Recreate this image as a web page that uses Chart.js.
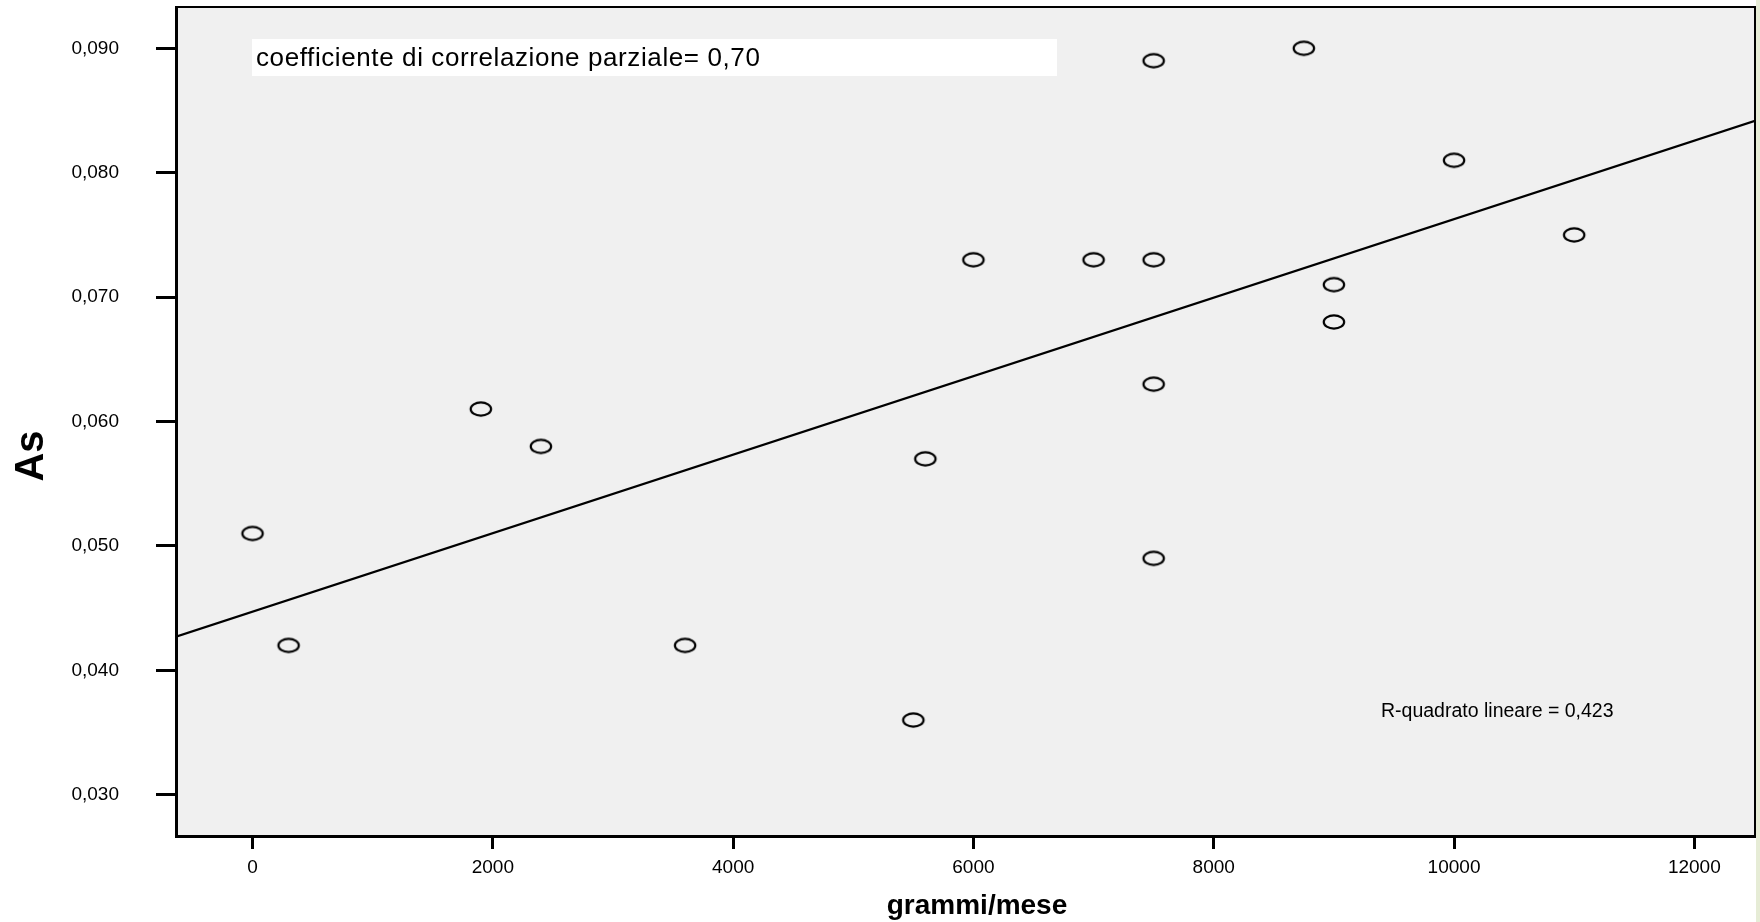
<!DOCTYPE html>
<html>
<head>
<meta charset="utf-8">
<script src="https://cdn.jsdelivr.net/npm/chart.js@4"></script>
<style>
  html, body { margin: 0; padding: 0; background: #fff; }
  canvas { display: block; }
</style>
</head>
<body>
<canvas id="chart" width="1760" height="922"></canvas>
<script>
// valori
const grammiMese = [0, 300, 1900, 2400, 3600, 5500, 5600, 6000, 7000, 7500, 7500, 7500, 7500, 8750, 9000, 9000, 10000, 11000];
const arsenico = [0.051, 0.042, 0.061, 0.058, 0.042, 0.036, 0.057, 0.073, 0.073, 0.089, 0.073, 0.063, 0.049, 0.090, 0.071, 0.068, 0.081, 0.075];
const xTickValues = [0, 2000, 4000, 6000, 8000, 10000, 12000];
const yTickValues = [0.030, 0.040, 0.050, 0.060, 0.070, 0.080, 0.090];
const yTickLabels = ['0,030', '0,040', '0,050', '0,060', '0,070', '0,080', '0,090'];
const xRange = [-637, 12505];
const yRange = [0.02668, 0.09332];
const xTitle = 'grammi/mese';
const yTitle = 'As';
const noteText = 'coefficiente di correlazione parziale= 0,70';
const r2Text = 'R-quadrato lineare = 0,423';

const FONT = '"Liberation Sans", Arial, sans-serif';

// retta dei minimi quadrati
const n = grammiMese.length;
const mx = grammiMese.reduce((a, b) => a + b, 0) / n;
const my = arsenico.reduce((a, b) => a + b, 0) / n;
let sxy = 0, sxx = 0;
for (let i = 0; i < n; i++) {
    sxy += (grammiMese[i] - mx) * (arsenico[i] - my);
    sxx += (grammiMese[i] - mx) * (grammiMese[i] - mx);
}
const slope = sxy / sxx;
const intercept = my - slope * mx;
const fitLine = xRange.map(x => ({ x: x, y: intercept + slope * x }));

// marcatore ellittico
const marker = document.createElement('canvas');
marker.width = 26;
marker.height = 18;
const mctx = marker.getContext('2d');
mctx.beginPath();
mctx.ellipse(13, 9, 10.2, 6.6, 0, 0, Math.PI * 2);
mctx.lineWidth = 2.2;
mctx.strokeStyle = '#000';
mctx.stroke();

const decorations = {
    id: 'decorations',
    beforeDraw(chart) {
        const ctx = chart.ctx;
        const a = chart.chartArea;
        ctx.save();
        ctx.fillStyle = '#f0f0f0';
        ctx.fillRect(a.left, a.top, a.right - a.left, a.bottom - a.top);
        ctx.fillStyle = '#e6ecd6';
        ctx.fillRect(1756, 0, 4, chart.height);
        // riquadro bianco con il coefficiente
        ctx.fillStyle = '#fff';
        ctx.fillRect(252, 39, 805, 37);
        ctx.fillStyle = '#000';
        ctx.font = '26px ' + FONT;
        if ('letterSpacing' in ctx) ctx.letterSpacing = '0.6px';
        ctx.textBaseline = 'alphabetic';
        ctx.textAlign = 'left';
        ctx.fillText(noteText, 256, 66);
        if ('letterSpacing' in ctx) ctx.letterSpacing = '0px';
        ctx.font = '19.5px ' + FONT;
        ctx.fillText(r2Text, 1381, 717);
        ctx.restore();
    },
    afterDraw(chart) {
        const ctx = chart.ctx;
        const a = chart.chartArea;
        ctx.save();
        ctx.strokeStyle = '#000';
        ctx.lineWidth = 2;
        ctx.beginPath();
        ctx.moveTo(a.left, a.top);
        ctx.lineTo(a.right, a.top);
        ctx.lineTo(a.right, a.bottom);
        ctx.stroke();
        // titoli degli assi
        ctx.fillStyle = '#000';
        ctx.font = 'bold 28px ' + FONT;
        ctx.textAlign = 'center';
        ctx.textBaseline = 'alphabetic';
        ctx.fillText(xTitle, 977, 914);
        ctx.translate(43, 456);
        ctx.rotate(-Math.PI / 2);
        ctx.font = 'bold 40px ' + FONT;
        ctx.fillText(yTitle, 0, 0);
        ctx.restore();
    }
};

function noPadding(s) {
    s.paddingTop = 0;
    s.paddingBottom = 0;
    s.paddingLeft = 0;
    s.paddingRight = 0;
}

const ctx = document.getElementById('chart').getContext('2d');
new Chart(ctx, {
    type: 'scatter',
    data: {
        datasets: [{
            label: 'As',
            data: grammiMese.map((x, i) => ({ x: x, y: arsenico[i] })),
            pointStyle: marker,
            pointRadius: 10,
            showLine: false
        }, {
            type: 'line',
            label: 'Lineare',
            data: fitLine,
            borderColor: '#000',
            borderWidth: 2.2,
            pointRadius: 0,
            fill: false
        }]
    },
    options: {
        responsive: false,
        devicePixelRatio: 1,
        animation: false,
        layout: { autoPadding: false, padding: { top: 7, right: 5, left: 0, bottom: 0 } },
        plugins: {
            legend: { display: false },
            tooltip: { enabled: false }
        },
        scales: {
            x: {
                type: 'linear',
                min: xRange[0],
                max: xRange[1],
                afterBuildTicks: s => { s.ticks = xTickValues.map(v => ({ value: v })); },
                afterFit: s => { s.height = 86; noPadding(s); },
                grid: { drawOnChartArea: false, drawTicks: true, tickLength: 13, tickWidth: 3, color: '#000' },
                border: { display: true, width: 3, color: '#000' },
                ticks: {
                    autoSkip: false,
                    maxRotation: 0,
                    padding: 7,
                    color: '#000',
                    font: { family: FONT, size: 19 },
                    callback: v => String(v)
                }
            },
            y: {
                type: 'linear',
                min: yRange[0],
                max: yRange[1],
                afterBuildTicks: s => { s.ticks = yTickValues.map(v => ({ value: v })); },
                afterFit: s => { s.width = 176; noPadding(s); },
                grid: { drawOnChartArea: false, drawTicks: true, tickLength: 20, tickWidth: 3, color: '#000' },
                border: { display: true, width: 3, color: '#000' },
                ticks: {
                    autoSkip: false,
                    padding: 37,
                    color: '#000',
                    font: { family: FONT, size: 19 },
                    callback: (v, i) => yTickLabels[i]
                }
            }
        }
    },
    plugins: [decorations]
});
</script>
</body>
</html>
